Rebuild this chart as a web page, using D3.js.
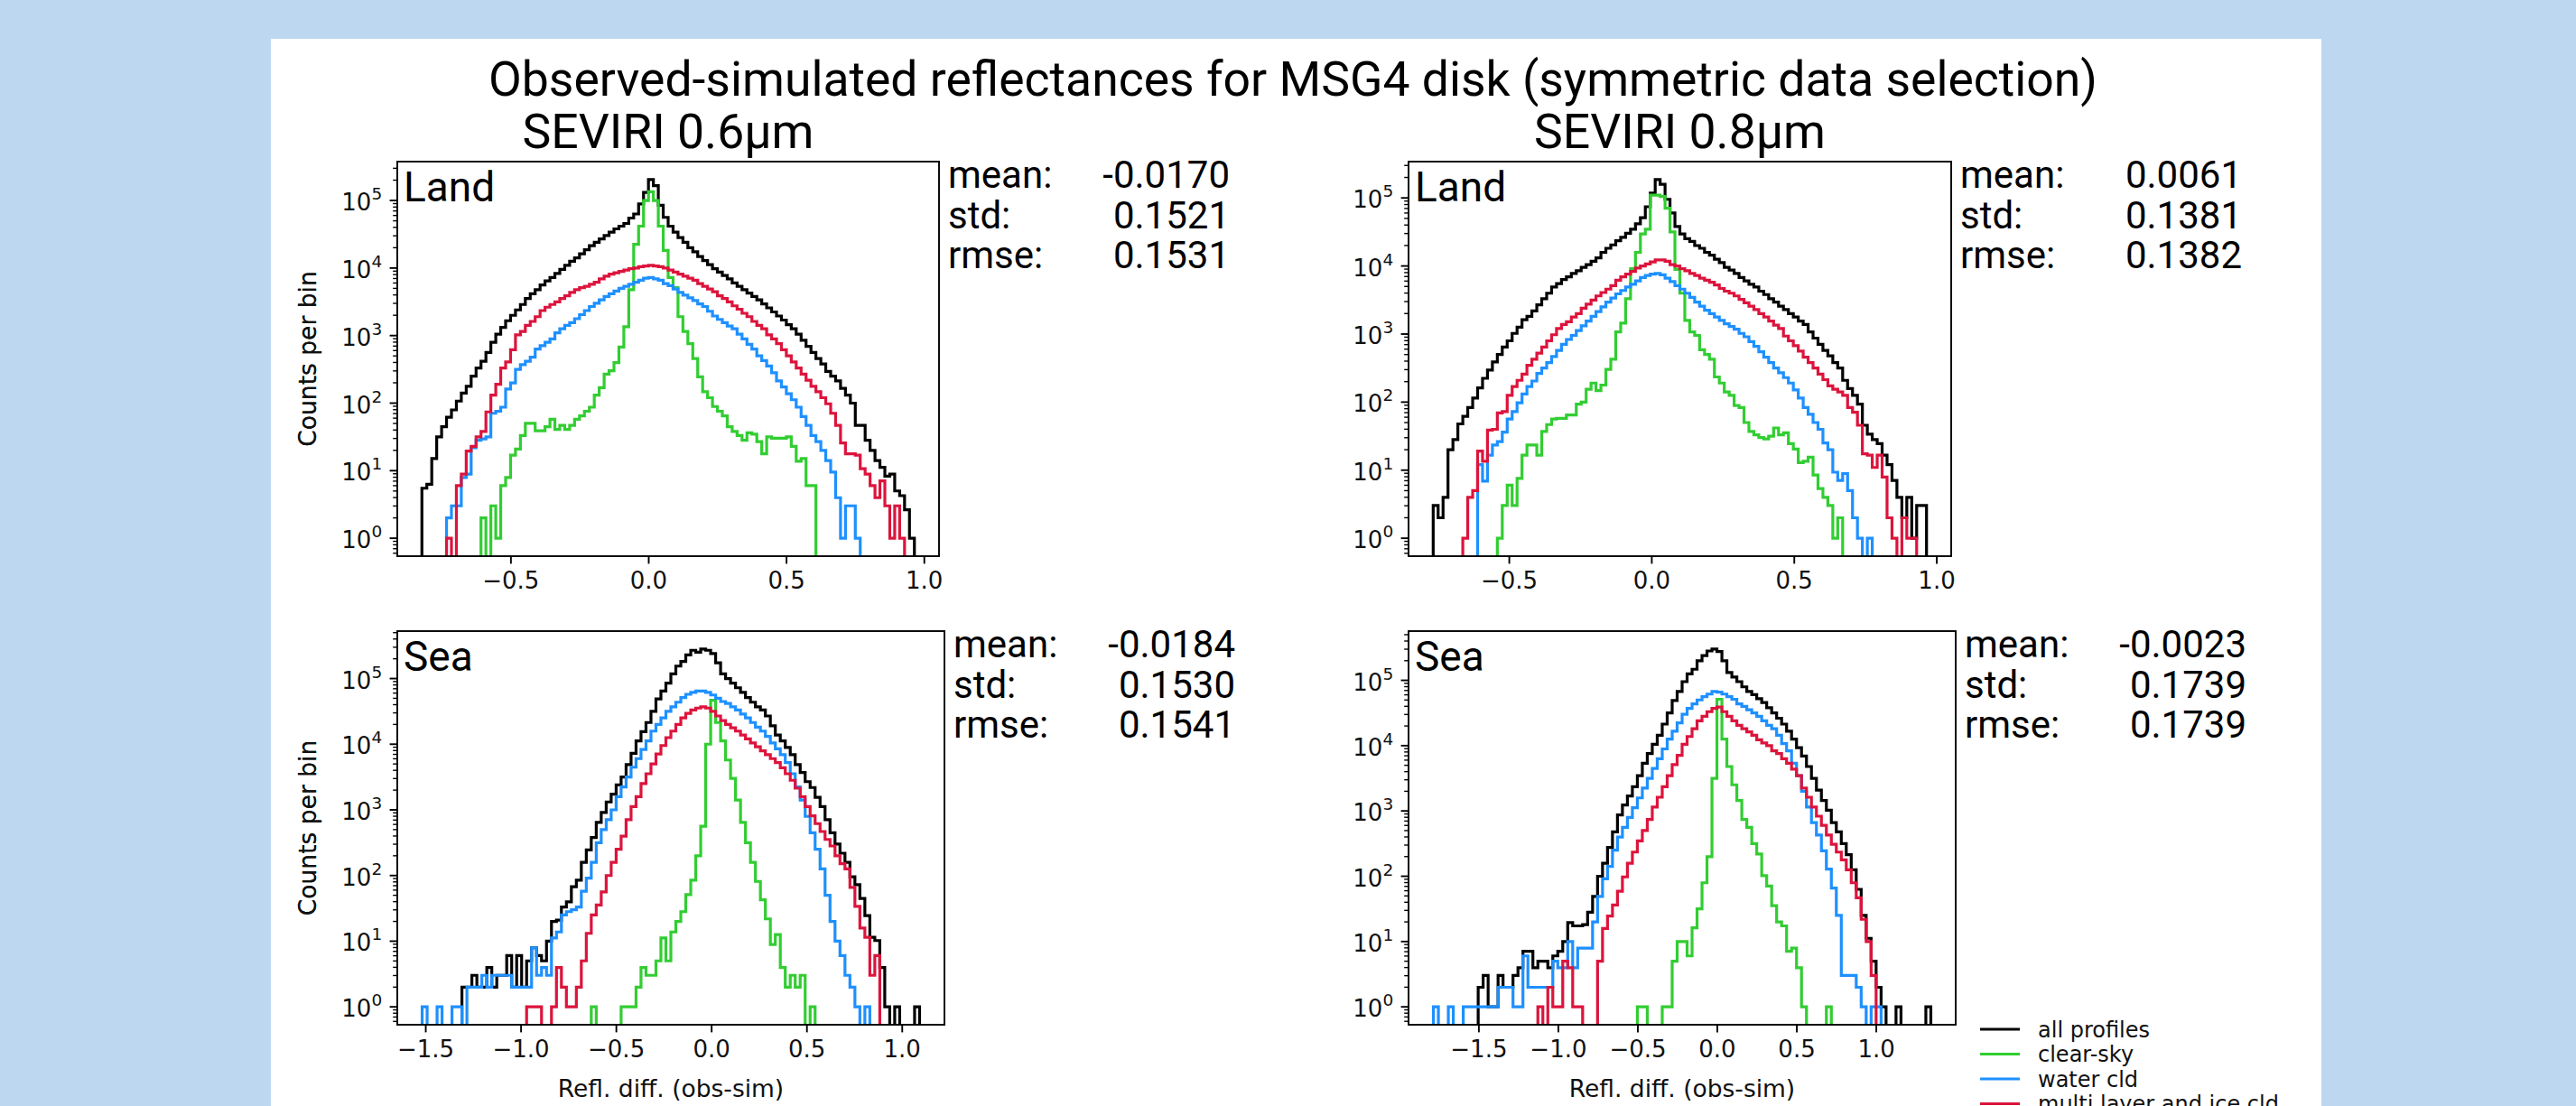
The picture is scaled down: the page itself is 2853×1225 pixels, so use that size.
<!DOCTYPE html>
<html>
<head>
<meta charset="utf-8">
<script src="https://cdn.jsdelivr.net/npm/d3@7"></script>
<style>
  body { margin: 0; background: #bdd7f1; }
  svg { display: block; }
</style>
</head>
<body>
<div id="chart"></div>
<script>
// empty bin (no counts)
var _ = null;

var seriesNames = ["all profiles", "clear-sky", "water cld", "multi layer and ice cld"];
var seriesColors = ["#000000", "#32cd32", "#1e90ff", "#dc143c"];
var statNames = ["mean:", "std:", "rmse:"];
var channelTitles = ["SEVIRI 0.6\u00b5m", "SEVIRI 0.8\u00b5m"];
var surfaceNames = ["Land", "Sea"];
var xTicksLand = [-0.5, 0.0, 0.5, 1.0];
var xTicksSea = [-1.5, -1.0, -0.5, 0.0, 0.5, 1.0];

// first and last bin edge of each histogram (100 bins)
var land06Range = [-0.823, 0.964];
var land08Range = [-0.767, 0.964];
var sea06Range = [-1.519, 1.091];
var sea08Range = [-1.786, 1.343];

// log10(counts per bin)
var land06All = [
  0.74,0.80,1.18,1.50,1.65,1.79,1.90,2.03,2.15,2.25,
  2.40,2.52,2.62,2.75,2.90,3.02,3.12,3.22,3.30,3.38,
  3.46,3.55,3.62,3.68,3.75,3.81,3.86,3.92,3.98,4.04,
  4.10,4.15,4.21,4.27,4.33,4.38,4.43,4.48,4.53,4.58,
  4.62,4.66,4.74,4.80,4.95,5.12,5.31,5.22,4.93,4.75,
  4.62,4.53,4.45,4.38,4.30,4.24,4.17,4.11,4.05,3.99,
  3.94,3.89,3.84,3.78,3.73,3.68,3.63,3.58,3.53,3.47,
  3.41,3.35,3.29,3.23,3.16,3.10,3.02,2.93,2.84,2.75,
  2.66,2.58,2.47,2.40,2.33,2.22,2.12,2.00,1.67,1.67,
  1.45,1.30,1.15,1.05,0.92,0.95,0.70,0.63,0.42,0.00];
var land06Clear = [
  _,_,_,_,_,_,_,_,_,_,
  _,_,0.30,_,0.48,0.00,0.78,0.90,1.23,1.32,
  1.52,1.70,1.70,1.59,1.59,1.65,1.76,1.61,1.67,1.61,
  1.67,1.76,1.81,1.88,1.94,2.12,2.23,2.43,2.48,2.60,
  2.83,3.13,3.68,4.35,4.62,5.00,5.13,5.00,4.62,4.26,
  3.86,3.71,3.28,3.06,2.88,2.66,2.39,2.17,2.08,1.95,
  1.88,1.81,1.65,1.58,1.52,1.45,1.56,1.54,1.43,1.25,
  1.50,1.48,1.48,1.48,1.50,1.36,1.14,1.18,0.78,0.78,
  _,_,_,_,_,_,_,_,_,_,
  _,_,_,_,_,_,_,_,_,_];
var land06Water = [
  _,_,_,_,_,0.30,0.48,0.48,0.90,0.95,
  1.34,1.45,1.47,1.50,1.85,1.88,1.94,2.21,2.30,2.50,
  2.57,2.62,2.68,2.80,2.85,2.90,2.95,3.04,3.10,3.15,
  3.19,3.25,3.31,3.37,3.43,3.48,3.53,3.58,3.62,3.66,
  3.70,3.73,3.76,3.79,3.82,3.85,3.86,3.84,3.82,3.77,
  3.74,3.69,3.64,3.60,3.56,3.52,3.47,3.43,3.36,3.29,
  3.24,3.19,3.14,3.10,3.02,2.95,2.87,2.80,2.70,2.63,
  2.55,2.45,2.33,2.24,2.14,2.05,1.94,1.80,1.67,1.52,
  1.43,1.30,1.15,0.98,0.60,0.00,0.48,0.48,0.00,_,
  _,_,_,_,_,_,_,_,_,_];
var land06Multi = [
  _,_,_,_,_,0.00,_,0.78,0.95,1.29,
  1.36,1.50,1.58,1.87,2.12,2.28,2.52,2.61,2.79,3.01,
  3.06,3.15,3.21,3.28,3.37,3.42,3.46,3.50,3.55,3.59,
  3.64,3.68,3.71,3.73,3.76,3.79,3.84,3.88,3.91,3.93,
  3.95,3.97,3.99,4.00,4.02,4.03,4.04,4.03,4.02,4.00,
  3.97,3.94,3.91,3.88,3.85,3.82,3.77,3.73,3.69,3.65,
  3.59,3.55,3.50,3.44,3.39,3.33,3.28,3.21,3.15,3.10,
  3.01,2.95,2.88,2.79,2.70,2.61,2.52,2.43,2.34,2.25,
  2.17,2.08,1.99,1.85,1.67,1.41,1.25,1.25,1.23,1.03,
  0.95,0.78,0.60,0.85,0.48,0.00,0.48,0.00,_,_];

var land08All = [
  0.48,0.30,0.60,1.30,1.45,1.68,1.79,1.92,2.06,2.21,
  2.35,2.47,2.59,2.70,2.81,2.90,3.01,3.10,3.21,3.26,
  3.34,3.43,3.52,3.60,3.69,3.74,3.80,3.84,3.89,3.93,
  3.98,4.02,4.07,4.12,4.20,4.26,4.31,4.37,4.42,4.48,
  4.54,4.62,4.71,4.87,5.07,5.27,5.20,4.98,4.78,4.58,
  4.47,4.40,4.36,4.30,4.26,4.20,4.16,4.10,4.05,3.98,
  3.94,3.89,3.83,3.78,3.73,3.69,3.63,3.58,3.52,3.47,
  3.41,3.36,3.30,3.25,3.19,3.14,3.03,2.94,2.85,2.76,
  2.68,2.58,2.50,2.32,2.20,2.10,1.97,1.66,1.53,1.45,
  1.39,1.22,1.08,0.85,0.60,0.30,0.60,0.00,0.48,0.48];
var land08Clear = [
  _,_,_,_,_,_,_,_,_,_,
  _,_,_,0.00,0.48,0.78,0.48,0.88,1.22,1.37,
  1.37,1.22,1.57,1.67,1.75,1.76,1.76,1.81,1.81,1.97,
  2.00,2.19,2.28,2.17,2.25,2.48,2.63,3.03,3.16,3.52,
  3.96,4.20,4.47,4.54,5.04,5.04,5.02,4.85,4.50,3.95,
  3.60,3.20,3.03,2.98,2.77,2.70,2.63,2.37,2.28,2.15,
  2.10,1.95,1.92,1.70,1.57,1.52,1.48,1.46,1.50,1.62,
  1.52,1.55,1.39,1.31,1.11,1.13,1.19,0.93,0.73,0.60,
  0.48,0.00,0.30,_,_,_,_,_,_,_,
  _,_,_,_,_,_,_,_,_,_];
var land08Water = [
  _,_,_,_,_,_,_,_,_,1.08,
  0.84,1.22,1.37,1.42,1.56,1.75,1.86,1.99,2.12,2.23,
  2.31,2.42,2.50,2.58,2.67,2.76,2.85,2.92,2.98,3.05,
  3.12,3.19,3.26,3.33,3.40,3.47,3.53,3.59,3.64,3.69,
  3.73,3.78,3.83,3.86,3.88,3.89,3.87,3.82,3.77,3.71,
  3.66,3.60,3.54,3.47,3.41,3.35,3.30,3.25,3.20,3.15,
  3.11,3.07,3.01,2.96,2.89,2.82,2.74,2.66,2.58,2.50,
  2.43,2.36,2.28,2.18,2.06,1.92,1.82,1.70,1.60,1.40,
  1.30,0.97,0.85,0.95,0.70,0.30,0.00,_,0.00,_,
  _,_,_,_,_,_,_,_,_,_];
var land08Multi = [
  _,_,_,_,_,_,0.00,0.60,0.70,1.28,
  1.13,1.59,1.60,1.84,1.86,2.10,2.23,2.32,2.41,2.54,
  2.63,2.72,2.81,2.90,2.99,3.08,3.14,3.18,3.25,3.30,
  3.38,3.44,3.50,3.56,3.61,3.66,3.71,3.79,3.84,3.88,
  3.92,3.97,4.00,4.03,4.06,4.09,4.09,4.07,4.02,4.00,
  3.96,3.93,3.89,3.86,3.82,3.79,3.76,3.72,3.67,3.63,
  3.60,3.56,3.51,3.46,3.41,3.36,3.30,3.25,3.19,3.13,
  3.08,2.97,2.90,2.83,2.75,2.66,2.58,2.50,2.41,2.33,
  2.24,2.19,2.15,2.10,1.92,1.85,1.66,1.24,1.22,1.04,
  1.22,0.90,0.30,0.00,_,0.30,0.00,0.00,_,_];

var sea06All = [
  _,_,_,_,_,_,_,_,0.30,0.30,
  0.48,0.30,0.30,0.60,0.30,0.48,0.48,0.78,0.30,0.78,
  0.30,0.70,0.90,0.78,0.70,1.00,1.30,1.32,1.52,1.60,
  1.83,1.93,2.20,2.39,2.58,2.81,2.96,3.12,3.24,3.38,
  3.50,3.69,3.86,4.05,4.19,4.33,4.50,4.69,4.81,4.93,
  5.07,5.19,5.26,5.36,5.43,5.40,5.45,5.43,5.38,5.24,
  5.07,5.00,4.93,4.86,4.79,4.71,4.64,4.57,4.52,4.43,
  4.28,4.14,4.05,3.95,3.84,3.69,3.57,3.43,3.34,3.19,
  3.05,2.85,2.65,2.48,2.34,2.20,1.98,1.86,1.65,1.39,
  1.06,1.01,0.60,0.00,_,0.00,_,_,_,0.00];
var sea06Clear = [
  _,_,_,_,_,_,_,_,_,_,
  _,_,_,_,_,_,_,_,_,_,
  _,_,_,_,_,_,_,_,_,_,
  _,_,_,_,0.00,_,_,_,_,_,
  0.00,0.00,0.00,0.30,0.60,0.48,0.48,0.70,1.05,0.70,
  1.14,1.30,1.45,1.71,1.93,2.30,2.75,4.00,4.67,4.33,
  4.05,3.76,3.48,3.15,2.81,2.50,2.20,1.91,1.63,1.34,
  0.95,1.10,0.60,0.30,0.48,0.30,0.48,_,0.00,_,
  _,_,_,_,_,_,_,_,_,_,
  _,_,_,_,_,_,_,_,_,_];
var sea06Water = [
  0.00,_,_,0.00,_,_,0.00,0.00,_,0.30,
  0.30,0.30,0.48,0.30,0.48,0.48,0.48,0.48,0.30,0.30,
  0.30,0.30,0.90,0.48,0.60,0.48,1.05,1.14,1.40,1.45,
  1.48,1.52,1.76,1.96,2.20,2.50,2.70,2.85,3.00,3.20,
  3.35,3.50,3.65,3.78,3.92,4.05,4.20,4.30,4.40,4.50,
  4.57,4.64,4.71,4.76,4.79,4.81,4.81,4.79,4.75,4.70,
  4.65,4.62,4.57,4.52,4.46,4.40,4.33,4.26,4.20,4.12,
  4.02,3.93,3.84,3.72,3.55,3.35,3.15,2.90,2.65,2.40,
  2.10,1.70,1.30,1.00,0.78,0.48,0.30,0.00,_,0.00,
  _,_,_,_,_,_,_,_,_,_];
var sea06Multi = [
  _,_,_,_,_,_,_,_,_,_,
  _,_,_,_,_,_,_,_,_,_,
  _,0.00,0.00,0.00,_,_,0.00,0.60,0.30,0.00,
  0.00,0.30,0.70,1.12,1.40,1.55,1.75,2.00,2.20,2.40,
  2.60,2.85,3.05,3.20,3.40,3.55,3.70,3.85,3.98,4.10,
  4.20,4.30,4.40,4.47,4.52,4.55,4.57,4.55,4.50,4.43,
  4.36,4.30,4.25,4.20,4.14,4.08,4.02,3.96,3.90,3.84,
  3.78,3.72,3.64,3.55,3.45,3.33,3.20,3.05,2.91,2.79,
  2.67,2.55,2.45,2.30,2.18,2.10,1.82,1.53,1.20,1.06,
  0.48,0.78,_,_,_,_,_,_,_,_];

var sea08All = [
  _,_,_,_,_,_,_,_,_,0.30,
  0.48,0.00,0.00,0.48,0.30,0.30,0.48,0.60,0.85,0.85,
  0.60,0.70,0.70,0.60,0.78,0.85,1.00,1.29,1.24,1.24,
  1.26,1.45,1.69,2.00,2.20,2.44,2.68,2.94,3.09,3.23,
  3.37,3.54,3.73,3.88,4.02,4.16,4.33,4.50,4.69,4.83,
  4.98,5.10,5.17,5.30,5.38,5.45,5.48,5.44,5.30,5.12,
  5.05,4.98,4.90,4.83,4.78,4.72,4.66,4.58,4.50,4.42,
  4.33,4.22,4.10,3.97,3.84,3.68,3.50,3.32,3.16,3.01,
  2.82,2.68,2.50,2.33,2.10,1.80,1.40,1.05,0.70,0.30,
  0.00,_,_,0.00,_,_,_,_,_,0.00];
var sea08Clear = [
  _,_,_,_,_,_,_,_,_,_,
  _,_,_,_,_,_,_,_,_,_,
  _,_,_,_,_,_,_,_,_,_,
  _,_,_,_,_,_,_,_,_,_,
  _,0.00,0.00,_,_,_,0.00,0.00,0.70,1.00,
  1.00,0.78,1.21,1.50,1.90,2.30,3.50,4.71,4.10,3.68,
  3.40,3.16,2.87,2.75,2.50,2.34,2.01,1.85,1.55,1.30,
  1.24,0.85,0.90,0.60,0.00,_,_,_,_,0.00,
  _,_,_,_,_,_,_,_,_,_,
  _,_,_,_,_,_,_,_,_,_];
var sea08Water = [
  0.00,_,_,0.00,_,_,0.00,0.00,0.00,0.00,
  0.00,0.00,0.00,0.30,0.30,0.30,0.00,0.00,0.78,0.30,
  0.30,0.30,0.30,0.30,0.70,0.60,0.60,1.00,0.60,0.90,
  0.90,0.90,1.30,1.69,1.96,2.15,2.40,2.60,2.75,2.90,
  3.05,3.20,3.35,3.50,3.65,3.80,3.95,4.10,4.22,4.35,
  4.48,4.57,4.64,4.70,4.75,4.79,4.83,4.82,4.79,4.75,
  4.71,4.64,4.60,4.55,4.50,4.45,4.38,4.31,4.26,4.16,
  4.03,3.92,3.73,3.54,3.30,3.06,2.82,2.63,2.39,2.11,
  1.82,1.40,0.48,0.48,0.48,0.30,0.00,_,0.00,0.00,
  _,_,_,_,_,_,_,_,_,_];
var sea08Multi = [
  _,_,_,_,_,_,_,_,_,_,
  _,_,_,_,_,_,_,_,_,_,
  _,0.00,_,0.30,0.00,0.00,0.70,0.60,0.00,0.00,
  _,_,_,0.70,1.20,1.39,1.56,1.77,1.99,2.20,
  2.37,2.54,2.70,2.87,3.06,3.21,3.37,3.54,3.71,3.85,
  4.02,4.14,4.26,4.38,4.45,4.52,4.57,4.59,4.52,4.45,
  4.38,4.31,4.26,4.21,4.16,4.09,4.04,4.00,3.92,3.88,
  3.80,3.73,3.64,3.54,3.35,3.21,3.06,2.92,2.78,2.63,
  2.49,2.37,2.25,2.10,1.90,1.67,1.34,1.00,0.48,_,
  _,_,_,_,_,_,_,_,_,_];

var land06Stats = ["-0.0170", "0.1521", "0.1531"];
var land08Stats = ["0.0061", "0.1381", "0.1382"];
var sea06Stats = ["-0.0184", "0.1530", "0.1541"];
var sea08Stats = ["-0.0023", "0.1739", "0.1739"];

(function() {
  var width = 2853,
      height = 1225;

  var svg = d3.select("#chart")
    .append("svg")
      .attr("width", width)
      .attr("height", height);

  // blue page background and the white figure
  svg.append("rect")
    .attr("width", width).attr("height", height)
    .attr("fill", "#bdd7f1");
  svg.append("rect")
    .attr("x", 300).attr("y", 43)
    .attr("width", 2271).attr("height", height - 43)
    .attr("fill", "#ffffff");

  var titleFont = "Roboto, 'DejaVu Sans', sans-serif";
  var axisFont = "'DejaVu Sans', sans-serif";
  var axisText = "#111";

  svg.append("text")
    .attr("x", 1432).attr("y", 106)
    .attr("text-anchor", "middle")
    .style("font-family", titleFont)
    .style("font-size", "53.5px")
    .text("Observed-simulated reflectances for MSG4 disk (symmetric data selection)");

  // one entry per subplot
  var panels = [
    {box: {x: 440, y: 179, w: 600, h: 437}, range: land06Range,
     counts: [land06All, land06Clear, land06Water, land06Multi],
     stats: land06Stats, surface: surfaceNames[0], xTicks: xTicksLand, bottom: false},
    {box: {x: 1560, y: 179, w: 601, h: 437}, range: land08Range,
     counts: [land08All, land08Clear, land08Water, land08Multi],
     stats: land08Stats, surface: surfaceNames[0], xTicks: xTicksLand, bottom: false},
    {box: {x: 440, y: 699, w: 606, h: 436}, range: sea06Range,
     counts: [sea06All, sea06Clear, sea06Water, sea06Multi],
     stats: sea06Stats, surface: surfaceNames[1], xTicks: xTicksSea, bottom: true},
    {box: {x: 1560, y: 699, w: 606, h: 436}, range: sea08Range,
     counts: [sea08All, sea08Clear, sea08Water, sea08Multi],
     stats: sea08Stats, surface: surfaceNames[1], xTicks: xTicksSea, bottom: true}
  ];

  // column titles above the top row
  [0, 1].forEach(function(c) {
    var b = panels[c].box;
    svg.append("text")
      .attr("x", b.x + b.w / 2).attr("y", 164)
      .attr("text-anchor", "middle")
      .style("font-family", titleFont)
      .style("font-size", "53.5px")
      .text(channelTitles[c]);
  });

  var fmt = d3.format(".1f");

  panels.forEach(function(p, idx) {
    var b = p.box;
    var nBins = p.counts[0].length;
    var span = p.range[1] - p.range[0];
    var binW = span / nBins;

    // matplotlib-like 5% margins
    var x = d3.scaleLinear()
      .domain([p.range[0] - 0.05 * span, p.range[1] + 0.05 * span])
      .range([b.x, b.x + b.w]);

    var maxLog = d3.max(p.counts, function(c) { return d3.max(c); });
    var lo = -0.05 * maxLog, hi = maxLog * 1.05;
    var y = d3.scaleLog()
      .domain([Math.pow(10, lo), Math.pow(10, hi)])
      .range([b.y + b.h, b.y]);
    var floorVal = Math.pow(10, lo - 1);

    var clipId = "clip" + idx;
    svg.append("clipPath").attr("id", clipId)
      .append("rect")
        .attr("x", b.x).attr("y", b.y)
        .attr("width", b.w).attr("height", b.h);

    var line = d3.line()
      .x(function(d) { return x(d[0]); })
      .y(function(d) { return y(d[1]); });

    var g = svg.append("g").attr("clip-path", "url(#" + clipId + ")");

    // step outline of each histogram
    p.counts.forEach(function(c, k) {
      var pts = [[p.range[0], floorVal]];
      c.forEach(function(v, i) {
        var cnt = (v === null) ? floorVal : Math.pow(10, v);
        var e0 = p.range[0] + i * binW;
        pts.push([e0, cnt], [e0 + binW, cnt]);
      });
      pts.push([p.range[1], floorVal]);
      g.append("path")
        .attr("d", line(pts))
        .attr("fill", "none")
        .attr("stroke", seriesColors[k])
        .attr("stroke-width", 3.2)
        .attr("stroke-linejoin", "miter");
    });

    // frame
    svg.append("rect")
      .attr("x", b.x).attr("y", b.y)
      .attr("width", b.w).attr("height", b.h)
      .attr("fill", "none")
      .attr("stroke", "#000")
      .attr("stroke-width", 1.9);

    // x ticks
    var bottomY = b.y + b.h;
    p.xTicks.forEach(function(t) {
      svg.append("line")
        .attr("x1", x(t)).attr("x2", x(t))
        .attr("y1", bottomY).attr("y2", bottomY + 8.4)
        .attr("stroke", "#000").attr("stroke-width", 1.9);
      svg.append("text")
        .attr("x", x(t)).attr("y", bottomY + 36)
        .attr("text-anchor", "middle")
        .style("font-family", axisFont)
        .style("font-size", "26px")
        .style("fill", axisText)
        .text(fmt(t));
    });

    // y ticks: decades and minor ticks
    for (var k = Math.floor(lo); k <= Math.ceil(hi); k++) {
      for (var m = 1; m <= 9; m++) {
        var v = m * Math.pow(10, k);
        if (v < y.domain()[0] || v > y.domain()[1]) continue;
        var yy = y(v);
        svg.append("line")
          .attr("x1", b.x - (m === 1 ? 8.4 : 4.8)).attr("x2", b.x)
          .attr("y1", yy).attr("y2", yy)
          .attr("stroke", "#000")
          .attr("stroke-width", m === 1 ? 1.9 : 1.4);
        if (m === 1) {
          var lab = svg.append("text")
            .attr("x", b.x - 16.8).attr("y", yy + 11)
            .attr("text-anchor", "end")
            .style("font-family", axisFont)
            .style("font-size", "26px")
            .style("fill", axisText);
          lab.append("tspan").text("10");
          lab.append("tspan")
            .attr("dy", -12)
            .style("font-size", "18.5px")
            .text(k);
        }
      }
    }

    svg.append("text")
      .attr("transform", "translate(" + 350 + "," + (b.y + b.h / 2) + ") rotate(-90)")
      .attr("text-anchor", "middle")
      .style("font-family", axisFont)
      .style("font-size", "26.5px")
      .style("fill", axisText)
      .text("Counts per bin");

    if (p.bottom) {
      svg.append("text")
        .attr("x", b.x + b.w / 2).attr("y", bottomY + 80)
        .attr("text-anchor", "middle")
        .style("font-family", axisFont)
        .style("font-size", "26.5px")
        .style("fill", axisText)
        .text("Refl. diff. (obs-sim)");
    }

    // Land / Sea label inside the axes
    svg.append("text")
      .attr("x", b.x + 7).attr("y", b.y + 44)
      .style("font-family", titleFont)
      .style("font-size", "46px")
      .text(p.surface);

    // statistics block right of the axes
    statNames.forEach(function(name, r) {
      var ty = b.y + 29 + r * 44.5;
      svg.append("text")
        .attr("x", b.x + b.w + 10).attr("y", ty)
        .style("font-family", titleFont)
        .style("font-size", "42px")
        .text(name);
      svg.append("text")
        .attr("x", b.x + b.w + 322).attr("y", ty)
        .attr("text-anchor", "end")
        .style("font-family", titleFont)
        .style("font-size", "42px")
        .text(p.stats[r]);
    });
  });

  // legend, bottom right; the last row runs into the page edge as in the original
  var legend = svg.append("g").attr("transform", "translate(2193,1140)");
  seriesNames.forEach(function(name, i) {
    var row = legend.append("g").attr("transform", "translate(0," + (i * 27.5) + ")");
    row.append("line")
      .attr("x1", 0).attr("x2", 44)
      .attr("stroke", seriesColors[i])
      .attr("stroke-width", 3.2);
    row.append("text")
      .attr("x", 64).attr("y", 8.5)
      .style("font-family", axisFont)
      .style("font-size", "24px")
      .style("fill", axisText)
      .text(name);
  });
})();
</script>
</body>
</html>
